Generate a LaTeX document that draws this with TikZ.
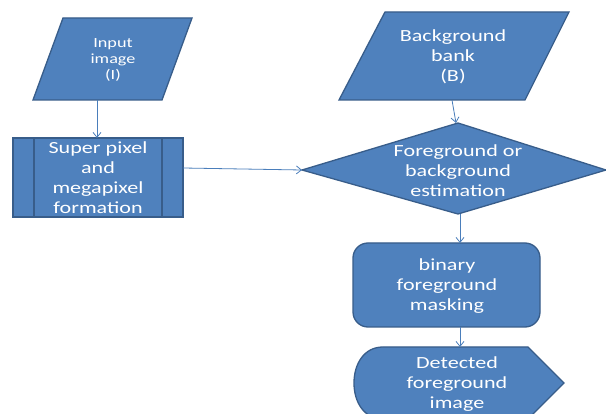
\documentclass[tikz,border=0pt]{standalone}
\usepackage{fontspec}
\setmainfont{Carlito}[FakeStretch=1.3]
\usetikzlibrary{arrows.meta}
\definecolor{boxfill}{HTML}{4F81BD}
\definecolor{boxline}{HTML}{385D8A}
\definecolor{arrowcol}{HTML}{4A7EBB}
\tikzset{
  shapebox/.style={fill=boxfill, draw=boxline, line width=1.3pt, line join=miter},
  lbl/.style={text=white, align=center, inner sep=0pt, font=\fontsize{17}{20}\selectfont},
  smalllbl/.style={text=white, align=center, inner sep=0pt, font=\fontsize{14}{16}\selectfont},
  conn/.style={draw=arrowcol, line width=0.8pt, -{Straight Barb[length=5pt,width=8pt]}}
}
\begin{document}
\begin{tikzpicture}[x=1pt,y=-1pt]
\useasboundingbox (0,0) rectangle (606,414);
\clip (0,0) rectangle (606,414);
\fill[white] (0,0) rectangle (606,414);
% shapes
\draw[shapebox] (63,18) -- (192,18) -- (162,100) -- (33,100) -- cycle;
\draw[shapebox] (13,138) rectangle (183,217);
\draw[boxline, line width=1.3pt] (34,138) -- (34,217) (162,138) -- (162,217);
\draw[shapebox] (385,12) -- (569,12) -- (525,100) -- (339,100) -- cycle;
\draw[shapebox] (302,170) -- (458,123) -- (606,170) -- (458,214) -- cycle;
\draw[shapebox, rounded corners=15pt] (353,243) rectangle (540,327);
\draw[shapebox] (383,347) -- (528,347) -- (564,383) -- (528,419) -- (383,419)
   .. controls (364,419) and (354,402) .. (354,383)
   .. controls (354,364) and (364,347) .. (383,347) -- cycle;
% text nodes
\node[smalllbl] (input) at (113,60) {Input\\image\\(I)};
\node[lbl] (super) at (98,178) {Super pixel\\and\\megapixel\\formation};
\node[lbl] (bank) at (453,57) {Background\\bank\\(B)};
\node[lbl] (est) at (458,171) {Foreground or\\background\\estimation};
\node[lbl] (mask) at (447,286) {binary\\foreground\\masking};
\node[lbl] (det) at (457,384) {Detected\\foreground\\image};
% connector coordinates
\coordinate (inB) at (97,100);
\coordinate (supT) at (97,138);
\coordinate (supR) at (183,168);
\coordinate (estL) at (302,170);
\coordinate (bankB) at (452,100);
\coordinate (estT) at (456,123);
\coordinate (estB) at (460,214);
\coordinate (maskT) at (460,243);
\coordinate (maskB) at (460,327);
\coordinate (detT) at (460,347);
% connectors
\draw[conn] (inB) -- (supT);
\draw[conn] (supR) -- (estL);
\draw[conn] (bankB) -- (estT);
\draw[conn] (estB) -- (maskT);
\draw[conn] (maskB) -- (detT);
\end{tikzpicture}
\end{document}
